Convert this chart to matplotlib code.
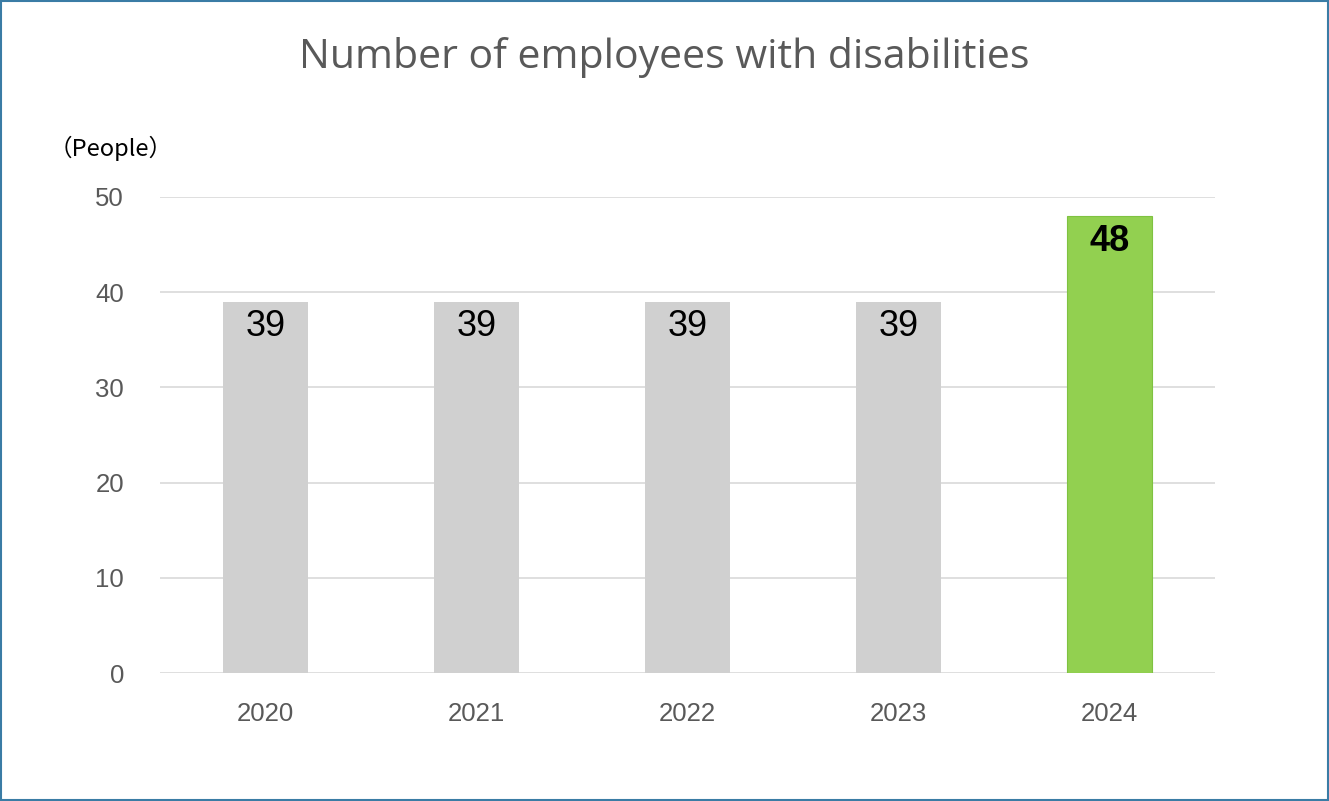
"""Number of employees with disabilities, 2020-2024."""
import matplotlib
matplotlib.use("Agg")
import matplotlib.pyplot as plt
from matplotlib.patches import Rectangle

years = ["2020", "2021", "2022", "2023", "2024"]
employees = [39, 39, 39, 39, 48]
bar_colors = ["#d0d0d0", "#d0d0d0", "#d0d0d0", "#d0d0d0", "#92d050"]
label_bold = [False, False, False, False, True]
y_ticks = [0, 10, 20, 30, 40, 50]

plt.rcParams["font.family"] = ["Liberation Sans", "DejaVu Sans"]

fig = plt.figure(figsize=(13.29, 8.01), dpi=100)
ax = fig.add_axes([0.1204, 0.1598, 0.7938, 0.5943])

x = range(len(years))
bars = ax.bar(x, employees, width=0.4, color=bar_colors, zorder=2)
for b in bars[-1:]:
    b.set_edgecolor("#7fc241")
    b.set_linewidth(0.8)

for xi, v, bold in zip(x, employees, label_bold):
    ax.text(xi, v - 0.8, str(v), ha="center", va="top",
            fontsize=26, color="black",
            fontweight="bold" if bold else "normal")

ax.set_xlim(-0.5, len(years) - 0.5)
ax.set_ylim(0, 50)
ax.set_yticks(y_ticks)
ax.set_xticks(list(x))
ax.set_xticklabels(years)
ax.tick_params(axis="both", length=0, labelsize=18.5, colors="#595959")
ax.tick_params(axis="y", pad=26)
ax.tick_params(axis="x", pad=21)
ax.grid(axis="y", color="#d9d9d9", linewidth=1.2, zorder=0)
for s in ax.spines.values():
    s.set_visible(False)

fig.text(0.5, 0.928, "Number of employees with disabilities", ha="center",
         va="center", fontsize=29.5, color="#595959", family="Open Sans")
fig.text(0.083, 0.815, "（People）", ha="center", va="center", fontsize=17,
         color="black", family=["Noto Sans CJK JP", "DejaVu Sans"])

fig.patches.append(Rectangle((0.0008, 0.0012), 0.9984, 0.9976,
                             transform=fig.transFigure, fill=False,
                             edgecolor="#3a7ca5", linewidth=1.5))

fig.savefig("out.png", dpi=100)
